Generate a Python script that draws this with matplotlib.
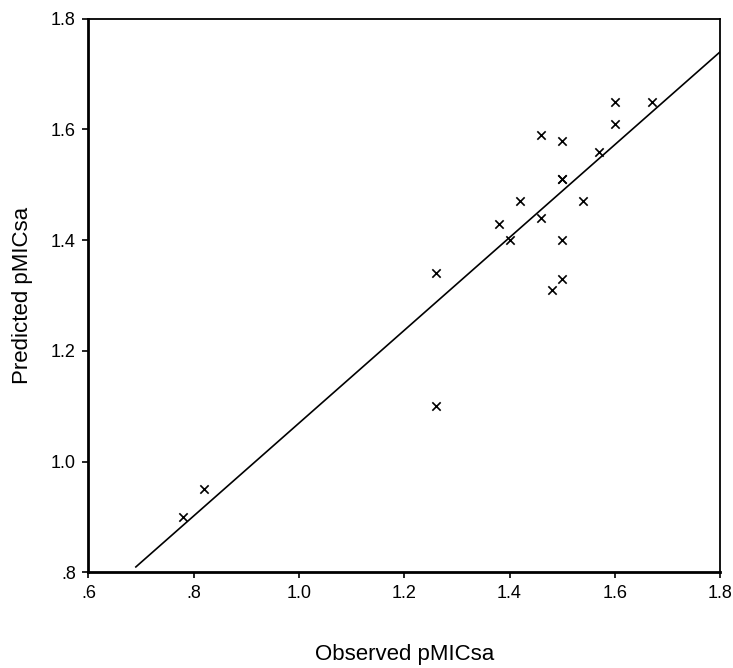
import matplotlib
matplotlib.use("Agg")
import matplotlib.pyplot as plt
from matplotlib.font_manager import fontManager

observed = [0.78, 0.82, 1.26, 1.26, 1.38, 1.40, 1.42, 1.46, 1.46, 1.50, 1.50, 1.50,
            1.50, 1.50, 1.48, 1.54, 1.57, 1.60, 1.60, 1.67]
predicted = [0.90, 0.95, 1.34, 1.10, 1.43, 1.40, 1.47, 1.59, 1.44, 1.58, 1.51, 1.51,
             1.40, 1.33, 1.31, 1.47, 1.56, 1.65, 1.61, 1.65]
fit_x = [0.69, 1.80]
fit_y = [0.81, 1.74]
ticks = [0.6, 0.8, 1.0, 1.2, 1.4, 1.6, 1.8]
xtick_labels = [".6", ".8", "1.0", "1.2", "1.4", "1.6", "1.8"]
yticks = [0.8, 1.0, 1.2, 1.4, 1.6, 1.8]
ytick_labels = [".8", "1.0", "1.2", "1.4", "1.6", "1.8"]

names = {f.name for f in fontManager.ttflist}
fam = [f for f in ["Liberation Sans", "DejaVu Sans"] if f in names]
plt.rcParams["font.family"] = fam

fig = plt.figure(figsize=(7.33, 6.68), dpi=100)
ax = fig.add_axes([0.1207, 0.143, 0.8616, 0.829])

ax.plot(fit_x, fit_y, color="black", lw=1.2)
ax.scatter(observed, predicted, marker="x", color="black", s=36, linewidths=1.2)

ax.set_xlim(0.6, 1.8)
ax.set_ylim(0.8, 1.8)
ax.set_xticks(ticks)
ax.set_xticklabels(xtick_labels)
ax.set_yticks(yticks)
ax.set_yticklabels(ytick_labels)
ax.tick_params(direction="out", length=4, width=1.2, labelsize=13, colors="black", pad=5)

for s in ["left", "bottom"]:
    ax.spines[s].set_linewidth(2.0)
for s in ["top", "right"]:
    ax.spines[s].set_linewidth(1.3)

ax.set_xlabel("Observed pMICsa", fontsize=16, va="center")
ax.set_ylabel("Predicted pMICsa", fontsize=16, va="center")
ax.xaxis.set_label_coords(0.5, -0.149)
ax.yaxis.set_label_coords(-0.105, 0.5)

fig.savefig("out.png", dpi=100)
